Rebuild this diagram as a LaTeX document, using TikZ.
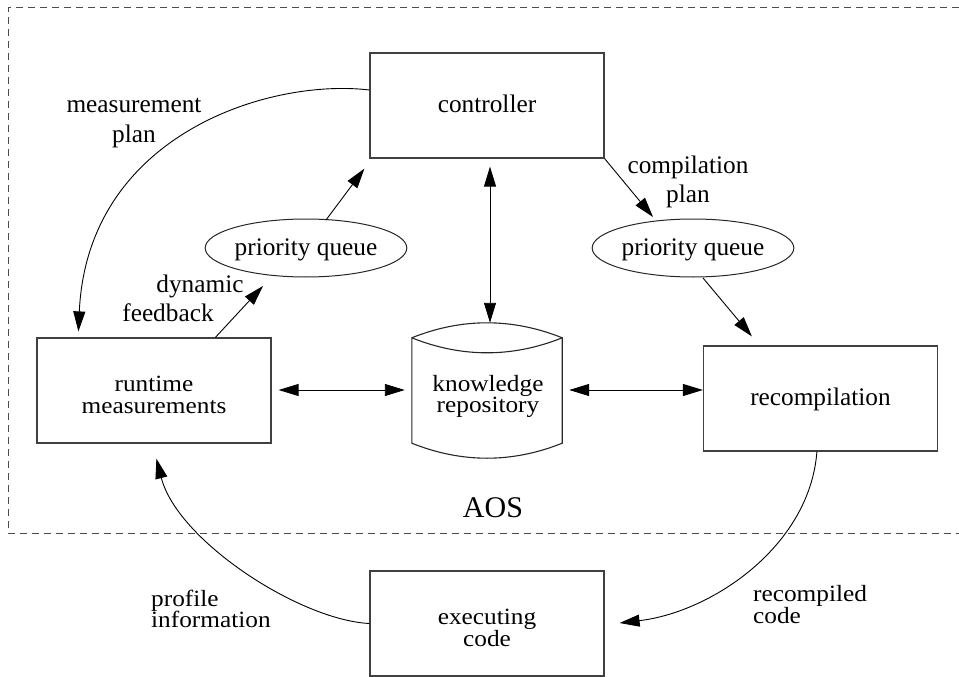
\documentclass[tikz,border=0pt]{standalone}
\usepackage{fontspec}
\usepackage{graphicx}
\setmainfont{Liberation Serif}
\usetikzlibrary{arrows.meta,shapes.geometric,calc}

% two-line text, slightly flattened, centred or flush left
\newcommand\flatc[2][25]{\scalebox{1}[0.92]{\fontsize{25.3}{#1}\selectfont\begin{tabular}[t]{@{}c@{}}#2\end{tabular}}}
\newcommand\flatl[2][25]{\scalebox{1}[0.92]{\fontsize{25.3}{#1}\selectfont\begin{tabular}[t]{@{}l@{}}#2\end{tabular}}}
\newcommand\twolines[1]{\begin{tabular}[t]{@{}c@{}}#1\end{tabular}}

\begin{document}
\begin{tikzpicture}[x=1pt, y=-1pt,
  every node/.style={font=\fontsize{25.3}{29}\selectfont, inner sep=0pt},
  box/.style={draw=black!75, line width=1.2pt, minimum width=234pt,
    minimum height=105pt, text height=18pt, text depth=4pt},
  flatbox/.style={text height=14pt, text depth=13pt},
  queue/.style={ellipse, draw=black!85, line width=1pt, minimum height=58pt,
    text height=18pt, text depth=4pt},
  conn/.style={line width=0.9pt, -{Triangle[length=20pt, width=12pt]}},
  conn2/.style={line width=0.9pt, {Triangle[length=20pt, width=12pt]}-{Triangle[length=20pt, width=12pt]}},
  region/.style={draw=black!70, line width=1pt, dash pattern=on 7pt off 5pt},
  lbl/.style={anchor=base},
]
\useasboundingbox (0,0) rectangle (959,677);

% AOS boundary (open to the right)
\draw[region] (959,8) -- (8,8) -- (8,533) -- (959,533);

% components
\node[box] (ctrl) at (487,105.5) {controller};
\node[box, flatbox] (rt) at (154,390.5) {\flatc[24]{runtime\\measurements}};
\node[box] (rc) at (820.5,398.5) {recompilation};
\node[box, flatbox] (ex) at (487,623.5) {\flatc[22]{executing\\code}};
\node[queue, minimum width=198pt] (lq) at (306,248) {priority queue};
\node[queue, minimum width=190pt] (rq) at (693,248) {priority queue};
\node[flatbox, minimum width=150pt, minimum height=135pt] (kn) at (488,390.5)
  {\flatc[21]{knowledge\\repository}};

% repository drum
\draw[draw=black!85, line width=1.1pt]
  ($(kn.north west)+(-1,15)$) -- ($(kn.south west)+(-1,-15)$)
  .. controls ($(kn.south west)+(49,5)$) and ($(kn.south east)+(-51,5)$) .. ($(kn.south east)+(-1,-15)$)
  -- ($(kn.north east)+(-1,15)$)
  .. controls ($(kn.north east)+(-51,-5)$) and ($(kn.north west)+(49,-5)$) .. cycle;
\draw[draw=black!85, line width=1.1pt]
  ($(kn.north west)+(-1,15)$)
  .. controls ($(kn.north west)+(49,35)$) and ($(kn.north east)+(-51,35)$) .. ($(kn.north east)+(-1,15)$);

\node[lbl, font=\fontsize{30}{34}\selectfont] (aos) at (493,517) {AOS};

% data exchange with the repository
\draw[conn2] ($(ctrl.south)+(3,8)$) -- ($(kn.north)+(2,0)$);
\draw[conn2] ($(rt.east)+(7,-0.5)$) -- ($(kn.west)+(-8,-0.5)$);
\draw[conn2] ($(kn.east)+(6,-0.5)$) -- ($(rc.west |- kn.east)+(0,-0.5)$);

% queues
\draw[conn] (ctrl.south east) -- ($(rq.center)+(-40,-31)$);
\draw[conn] ($(rq.center)+(10,30)$) -- ($(rc.north west)+(49,-9)$);
\draw[conn] ($(rt.north west)+(179,0)$) -- ($(lq.center)+(-43,38)$);
\draw[conn] ($(lq.center)+(20,-28)$) -- ($(ctrl.south west)+(-5,10)$);

% outer loops
\draw[conn] ($(ctrl.west)+(0,-15.5)$)
  .. controls ($(ctrl.west)+(-100,-27.5)$) and ($(rt.north west)+(51,-203)$) .. ($(rt.north west)+(42,-6)$);
\draw[conn] ($(rc.south west)+(114,0)$)
  .. controls ($(rc.south west)+(107,94)$) and ($(ex.east)+(108,-11.5)$) .. ($(ex.east)+(15,-0.5)$);
\draw[conn] (ex.west)
  .. controls ($(ex.west)+(-70,-3.5)$) and ($(rt.south west)+(141,97)$) .. ($(rt.south west)+(120,15)$);

% labels
\node[lbl] (lmp) at (134,113) {\twolines{measurement\\plan}};
\node[lbl] (ldf) at (184,292) {\twolines{\hspace*{32pt}dynamic\\feedback\hspace*{32pt}}};
\node[lbl] (lcp) at (688,173) {\twolines{compilation\\plan}};
\node[anchor=base west] (lpi) at (151,606) {\flatl[18]{profile\\information}};
\node[anchor=base west] (lrc) at (753,601) {\flatl[23]{recompiled\\code}};
\end{tikzpicture}
\end{document}
